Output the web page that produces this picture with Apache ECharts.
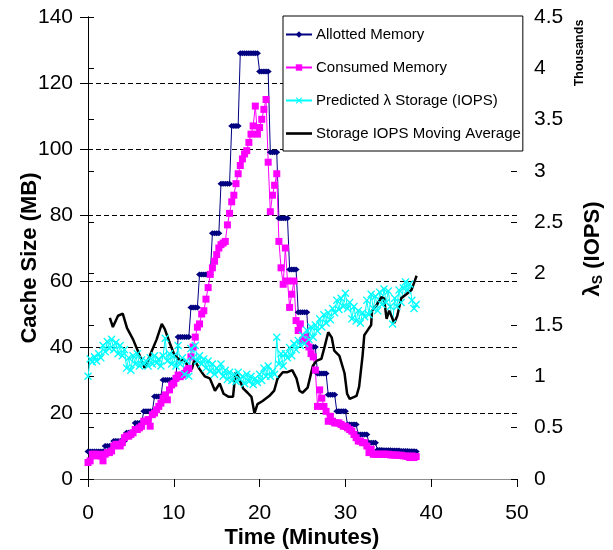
<!DOCTYPE html>
<html>
<head>
<meta charset="utf-8">
<script src="https://cdn.jsdelivr.net/npm/echarts@6/dist/echarts.min.js"></script>
<style>
  html, body { margin: 0; padding: 0; background: #fff; }
  #chart { width: 613px; height: 550px; }
</style>
</head>
<body>
<div id="chart"></div>
<script>
// Memory and storage samples, one every 15 seconds (0.25 min) from t = 0
const sampleStepMin = 0.25;

// Allotted memory (MB)
const allottedMB = [
  8.3, 8.3, 8.3, 8.3, 8.3, 8.3, 8.3, 8.3,
  10, 10, 10, 10,
  11.5, 11.5, 11.5, 11.5, 11.5, 11.5,
  14, 14, 14, 14,
  17, 17, 17, 17,
  20.5, 20.5, 20.5, 20.5, 20.5,
  25, 25, 25, 25,
  30, 30, 30, 30, 30, 30, 30,
  43, 43, 43, 43, 43, 43,
  52, 52, 52, 52,
  62, 62, 62, 62, 62, 62,
  74.5, 74.5, 74.5, 74.5,
  89.5, 89.5, 89.5, 89.5, 89.5,
  107, 107, 107, 107,
  129, 129, 129, 129, 129, 129, 129, 129, 129,
  123.5, 123.5, 123.5, 123.5, 123.5,
  99, 99, 99, 99,
  79, 79, 79, 79, 79,
  63.5, 63.5, 63.5, 63.5,
  50.5, 50.5, 50.5, 50.5, 50.5,
  40, 40, 40, 40,
  32, 32, 32, 32, 32,
  25.5, 25.5, 25.5, 25.5,
  20.5, 20.5, 20.5, 20.5, 20.5,
  16.5, 16.5, 16.5, 16.5, 16.5,
  13.5, 13.5, 13.5, 13.5, 13.5,
  11, 11, 11, 11,
  8.8, 8.8, 8.8, 8.7, 8.7, 8.7, 8.7, 8.6, 8.6, 8.6, 8.6, 8.5, 8.5, 8.5, 8.5, 8.4, 8.4, 8.4, 8.3
];

// Consumed memory (MB)
const consumedMB = [
  5, 5.5, 7.5, 7.5, 7, 7.5, 7, 5.5,
  7.5, 8, 8, 8.5, 10, 10.5, 10.5, 10,
  11, 12.5, 13, 13, 13.5, 14, 15, 15,
  15.5, 16, 17.5, 17.5, 18, 16, 19.5, 20,
  21, 22, 23, 24.5, 25.5, 24, 27, 28.5,
  29, 30.5, 31.5, 31, 31.5, 32, 33, 33.5,
  37, 40, 43, 46, 47, 50, 51, 54.5,
  58, 62, 64, 66, 68, 70, 71, 71.5,
  72, 77, 80.5, 84, 86, 89.5, 92.5, 95,
  97, 98.5, 99.5, 102, 104.5, 107, 113, 104.5,
  106.5, 109, 112, 115, 96, 81, 86, 89,
  92.5, 72, 64, 59, 70, 60, 52, 56,
  60, 48, 45, 47, 42, 43, 42, 40,
  38, 37, 33, 22, 27, 24.5, 22, 20.5,
  17.5, 19, 17.5, 17, 17, 17, 16.5, 16,
  16, 15.5, 15, 14.5, 13.5, 12.5, 11.5, 11.5,
  11, 11, 10, 8, 9, 7.5, 7.5, 7.5,
  7.5, 7.5, 7.5, 7.5, 7.5, 7.3, 7.3, 7.3,
  7.2, 7.2, 7.2, 7, 7, 6.8, 6.5, 7,
  6.5, 6.8
];

// Predicted storage rate (thousands of IOPS)
const predictedKIops = [
  1.00, 1.17, 1.14, 1.19, 1.15, 1.22, 1.18, 1.30,
  1.24, 1.34, 1.27, 1.36, 1.26, 1.33, 1.22, 1.30,
  1.20, 1.26, 1.08, 1.18, 1.06, 1.20, 1.12, 1.22,
  1.10, 1.16, 1.12, 1.15, 1.10, 1.18, 1.12, 1.20,
  1.13, 1.17, 1.10, 1.20, 1.37, 1.15, 1.22, 1.12,
  1.20, 1.10, 1.30, 1.12, 1.18, 1.02, 1.15, 1.00,
  1.27, 1.18, 1.30, 1.15, 1.20, 1.12, 1.17, 1.08,
  1.15, 1.05, 1.12, 1.02, 1.08, 1.05, 1.12, 1.00,
  1.06, 0.97, 1.04, 0.96, 1.02, 0.95, 1.04, 0.97,
  1.00, 0.93, 1.02, 0.95, 1.00, 0.92, 0.98, 0.94,
  1.02, 0.96, 1.08, 1.00, 1.10, 1.00, 1.05, 1.02,
  1.38, 1.12, 1.22, 1.10, 1.22, 1.18, 1.28, 1.20,
  1.32, 1.26, 1.35, 1.30, 1.40, 1.32, 1.45, 1.36,
  1.48, 1.38, 1.50, 1.44, 1.56, 1.48, 1.60, 1.52,
  1.62, 1.55, 1.66, 1.62, 1.74, 1.65, 1.76, 1.68,
  1.81, 1.66, 1.72, 1.56, 1.68, 1.54, 1.64, 1.52,
  1.62, 1.58, 1.74, 1.60, 1.80, 1.66, 1.78, 1.64,
  1.82, 1.70, 1.85, 1.72, 1.83, 1.68, 1.51, 1.76,
  1.68, 1.84, 1.72, 1.86, 1.92, 1.84, 1.90, 1.74,
  1.66, 1.70
];

// Storage IOPS moving average (thousands), sampled at its own times (min)
const avgMinutes = [
  2.55, 2.9, 3.5, 4.05, 4.55, 5.25, 5.8, 6.6, 7.2, 8.0,
  8.6, 8.95, 9.55, 10.1, 10.7, 11.3, 11.6, 12.1, 12.4, 13.0,
  13.6, 14.2, 14.8, 15.35, 15.8, 16.4, 16.9, 17.2, 17.7, 18.1,
  18.6, 19.05, 19.4, 19.75, 20.35, 21.15, 21.7, 22.1, 22.7, 23.25,
  23.8, 24.3, 24.65, 25.0, 25.6, 26.2, 26.6, 27.2, 27.55, 28.0,
  28.4, 28.7, 29.3, 29.9, 30.2, 30.5, 31.3, 31.6, 32.0, 32.2,
  32.6, 33.0, 33.1, 33.6, 34.2, 34.5, 34.8, 35.1, 35.7, 36.05,
  36.5, 37.1, 37.7, 38.0, 38.3
];
const avgKIops = [
  1.57, 1.48, 1.59, 1.61, 1.47, 1.36, 1.25, 1.08, 1.20, 1.36,
  1.51, 1.46, 1.32, 1.20, 1.16, 1.16, 1.10, 1.07, 1.16, 1.07,
  1.00, 0.98, 0.86, 0.93, 0.83, 0.80, 0.80, 1.04, 0.96, 0.88,
  0.84, 0.80, 0.64, 0.73, 0.76, 0.81, 0.86, 0.98, 1.04, 1.04,
  1.06, 0.98, 0.86, 0.84, 0.89, 1.10, 1.15, 1.17, 1.28, 1.43,
  1.38, 1.25, 1.20, 1.03, 0.83, 0.78, 0.81, 0.90, 1.20, 1.40,
  1.45, 1.50, 1.64, 1.69, 1.77, 1.76, 1.56, 1.64, 1.52, 1.59,
  1.76, 1.80, 1.84, 1.91, 1.98
];

const seriesNames = [
  'Allotted Memory',
  'Consumed Memory',
  'Predicted \u03bb Storage (IOPS)',
  'Storage IOPS Moving Average'
];

const withTime = vals => vals.map((v, i) => [i * sampleStepMin, v]);
const avgPairs = avgMinutes.map((t, i) => [t, avgKIops[i]]);

const FONT = '"Liberation Sans", Arial, Helvetica, sans-serif';
const crossMark = 'path://M0,1.2L1.2,0L5,3.8L8.8,0L10,1.2L6.2,5L10,8.8L8.8,10L5,6.2L1.2,10L0,8.8L3.8,5Z';
// plain thick stroke for the moving-average legend key
const barKey = 'path://M0,0L26,0L26,2.6L0,2.6Z';

const chart = echarts.init(document.getElementById('chart'), null, { renderer: 'canvas' });

const blackAxis = { show: true, lineStyle: { color: '#000', width: 1 } };

const option = {
  animation: false,
  backgroundColor: '#ffffff',
  textStyle: { fontFamily: FONT, color: '#000' },
  grid: { left: 88, right: 96, top: 17, bottom: 71, containLabel: false, outerBoundsMode: 'none' },
  legend: {
    data: [
      { name: seriesNames[0] },
      { name: seriesNames[1] },
      { name: seriesNames[2] },
      { name: seriesNames[3], icon: barKey }
    ],
    orient: 'vertical',
    left: 283,
    top: 16,
    padding: [11, 2, 10, 2],
    itemWidth: 26,
    itemHeight: 8,
    itemGap: 18,
    backgroundColor: '#ffffff',
    borderColor: '#000',
    borderWidth: 1,
    borderRadius: 0,
    selectedMode: false,
    textStyle: { fontFamily: FONT, fontSize: 15, color: '#000', padding: [0, 0, 0, -1] }
  },
  xAxis: [
    {
      type: 'value', min: 0, max: 50, interval: 10,
      axisLine: blackAxis,
      axisTick: { show: true, length: 8, lineStyle: { color: '#000' } },
      axisLabel: { fontFamily: FONT, fontSize: 21, color: '#000', margin: 24 },
      splitLine: { show: false }
    },
    {
      type: 'value', position: 'top', min: 0, max: 50, interval: 10,
      axisLine: { show: true, lineStyle: { color: '#8c8c8c', width: 1 } },
      axisTick: { show: false }, axisLabel: { show: false }, splitLine: { show: false }
    }
  ],
  yAxis: [
    {
      type: 'value', position: 'left', min: 0, max: 140, interval: 20,
      axisLine: blackAxis,
      axisTick: { show: true, length: 8, lineStyle: { color: '#000' } },
      axisLabel: { fontFamily: FONT, fontSize: 21, color: '#000', margin: 15 },
      splitLine: {
        show: true, showMinLine: false, showMaxLine: false,
        lineStyle: { color: '#000', width: 1, type: [5, 3] }
      }
    },
    {
      type: 'value', position: 'right', min: 0, max: 4.5, interval: 0.5,
      axisLine: blackAxis,
      axisTick: { show: true, length: 6, lineStyle: { color: '#000' } },
      axisLabel: { fontFamily: FONT, fontSize: 21, color: '#000', margin: 17 },
      splitLine: { show: false }
    },
    {
      // inner half of the crossing tick marks on the right axis
      type: 'value', position: 'right', min: 0, max: 4.5, interval: 0.5,
      axisLine: { show: false },
      axisTick: { show: true, inside: true, length: 6, lineStyle: { color: '#000' } },
      axisLabel: { show: false },
      splitLine: { show: false }
    }
  ],
  graphic: [
    {
      type: 'text', x: 30, y: 258, rotation: Math.PI / 2, silent: true,
      style: { text: 'Cache Size (MB)', font: 'bold 22px ' + FONT, fill: '#000', align: 'center', verticalAlign: 'middle' }
    },
    {
      type: 'text', x: 302, y: 538, silent: true,
      style: { text: 'Time (Minutes)', font: 'bold 22px ' + FONT, fill: '#000', align: 'center', verticalAlign: 'middle' }
    },
    {
      type: 'text', x: 580, y: 53, rotation: Math.PI / 2, silent: true,
      style: { text: 'Thousands', font: 'bold 12.5px ' + FONT, fill: '#000', align: 'center', verticalAlign: 'middle' }
    },
    {
      type: 'text', x: 593, y: 249, rotation: Math.PI / 2, silent: true,
      style: {
        text: '{a|\u03bb}{b|S}{a| (IOPS)}',
        align: 'center', verticalAlign: 'middle', fill: '#000',
        rich: {
          a: { font: 'bold 22px ' + FONT, fill: '#000', lineHeight: 24, verticalAlign: 'middle' },
          b: { font: 'bold 14px ' + FONT, fill: '#000', lineHeight: 24, verticalAlign: 'bottom', padding: [6, 0, 0, 0] }
        }
      }
    }
  ],
  series: [
    {
      name: seriesNames[0], type: 'line', xAxisIndex: 0, yAxisIndex: 0,
      data: withTime(allottedMB),
      symbol: 'diamond', symbolSize: [7, 6], showAllSymbol: true, silent: true,
      lineStyle: { color: '#000080', width: 1 },
      itemStyle: { color: '#000080', borderWidth: 0 },
      emphasis: { disabled: true }
    },
    {
      name: seriesNames[1], type: 'line', xAxisIndex: 0, yAxisIndex: 0,
      data: withTime(consumedMB),
      symbol: 'rect', symbolSize: 7, showAllSymbol: true, silent: true,
      lineStyle: { color: '#ff00ff', width: 1 },
      itemStyle: { color: '#ff00ff', borderWidth: 0 },
      emphasis: { disabled: true }
    },
    {
      name: seriesNames[2], type: 'line', xAxisIndex: 0, yAxisIndex: 1,
      data: withTime(predictedKIops),
      symbol: crossMark, symbolSize: 8, showAllSymbol: true, silent: true,
      lineStyle: { color: '#00ffff', width: 1 },
      itemStyle: { color: '#00ffff', borderWidth: 0 },
      emphasis: { disabled: true }
    },
    {
      name: seriesNames[3], type: 'line', xAxisIndex: 0, yAxisIndex: 1,
      data: avgPairs,
      showSymbol: false, symbol: 'none', silent: true,
      lineStyle: { color: '#000000', width: 2.5 },
      itemStyle: { color: '#000000' },
      emphasis: { disabled: true }
    }
  ]
};

chart.setOption(option);
</script>
</body>
</html>
